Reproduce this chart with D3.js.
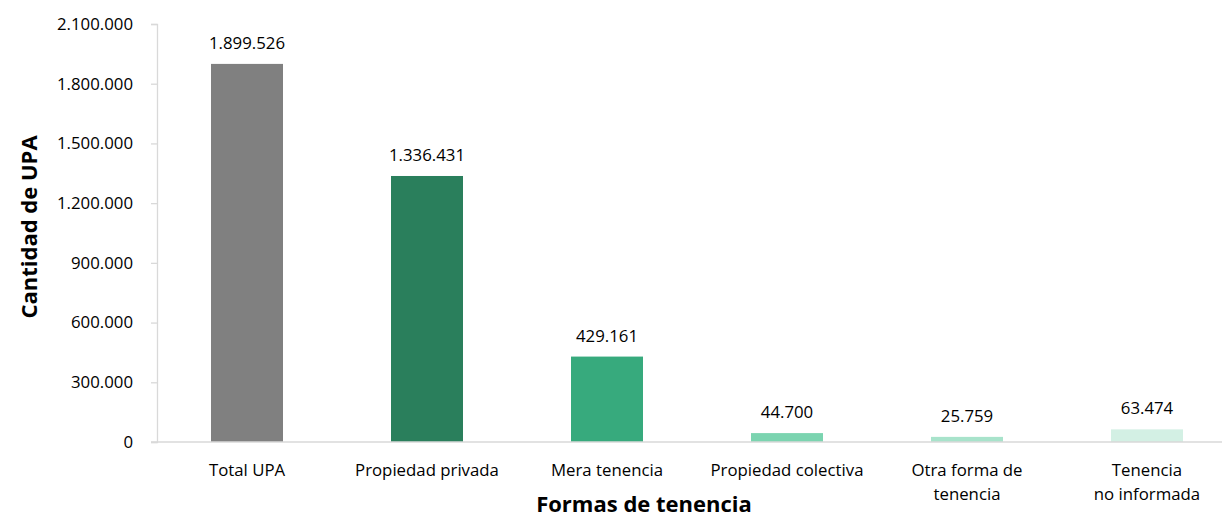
<!DOCTYPE html>
<html>
<head>
<meta charset="utf-8">
<script src="https://cdn.jsdelivr.net/npm/d3@7"></script>
<style>
  body { margin: 0; background: #fff; }
  svg { display: block; font-family: "Open Sans", "Noto Sans", sans-serif; }
</style>
</head>
<body>
<div id="chart"></div>
<script>
const categories = ["Total UPA", "Propiedad privada", "Mera tenencia", "Propiedad colectiva", "Otra forma de|tenencia", "Tenencia|no informada"];
const values = [1899526, 1336431, 429161, 44700, 25759, 63474];
const barColors = ["#808080", "#2a7f5c", "#37aa7d", "#7bd4b0", "#a8e3cb", "#d3f0e4"];
const yTicks = [0, 300000, 600000, 900000, 1200000, 1500000, 1800000, 2100000];

const width = 1222, height = 519;
const margin = { top: 24, right: -15, bottom: 77, left: 157 };
const fontSize = 16.8;

const fmt = (v) => d3.format(",")(v).replace(/,/g, ".");

const svg = d3.select("#chart").append("svg")
  .attr("width", width)
  .attr("height", height);

const x = d3.scaleBand()
  .domain(categories)
  .range([margin.left, width - margin.right])
  .paddingInner(0.6)
  .paddingOuter(0.3);

const y = d3.scaleLinear()
  .domain([0, 2100000])
  .range([height - margin.bottom, margin.top]);

// y axis
const yAxis = svg.append("g")
  .attr("transform", `translate(${margin.left},0)`)
  .call(d3.axisLeft(y).tickValues(yTicks).tickFormat(fmt).tickSize(6).tickPadding(18));
yAxis.select(".domain").attr("stroke", "#d9d9d9").attr("stroke-width", 1.3);
yAxis.selectAll(".tick line").attr("stroke", "#d9d9d9").attr("stroke-width", 1.3);
yAxis.selectAll(".tick text").attr("font-size", fontSize).attr("fill", "#000").attr("font-family", "Open Sans");

// bars
svg.append("g")
  .selectAll("rect")
  .data(values)
  .join("rect")
  .attr("x", (d, i) => x(categories[i]))
  .attr("width", x.bandwidth())
  .attr("y", (d) => y(d))
  .attr("height", (d) => y(0) - y(d))
  .attr("fill", (d, i) => barColors[i]);

// baseline
svg.append("line")
  .attr("x1", margin.left - 6)
  .attr("x2", width)
  .attr("y1", y(0))
  .attr("y2", y(0))
  .attr("stroke", "#d9d9d9")
  .attr("stroke-width", 1.5);

// value labels
svg.append("g")
  .selectAll("text")
  .data(values)
  .join("text")
  .attr("x", (d, i) => x(categories[i]) + x.bandwidth() / 2)
  .attr("y", (d) => y(d) - 15)
  .attr("text-anchor", "middle")
  .attr("font-size", fontSize)
  .attr("fill", "#000")
  .text(fmt);

// category labels
svg.append("g")
  .selectAll("text")
  .data(categories)
  .join("text")
  .attr("x", (d) => x(d) + x.bandwidth() / 2)
  .attr("y", y(0) + 34)
  .attr("text-anchor", "middle")
  .attr("font-size", fontSize)
  .attr("fill", "#000")
  .each(function (d) {
    const lines = d.split("|");
    d3.select(this).selectAll("tspan")
      .data(lines)
      .join("tspan")
      .attr("x", x(d) + x.bandwidth() / 2)
      .attr("dy", (l, i) => (i === 0 ? 0 : 24))
      .text((l) => l);
  });

// axis titles
svg.append("text")
  .attr("x", 644)
  .attr("y", 512)
  .attr("text-anchor", "middle")
  .attr("font-size", 22)
  .attr("font-weight", "bold")
  .text("Formas de tenencia");

svg.append("text")
  .attr("transform", `translate(37,227) rotate(-90)`)
  .attr("text-anchor", "middle")
  .attr("font-size", 22)
  .attr("font-weight", "bold")
  .text("Cantidad de UPA");
</script>
</body>
</html>
